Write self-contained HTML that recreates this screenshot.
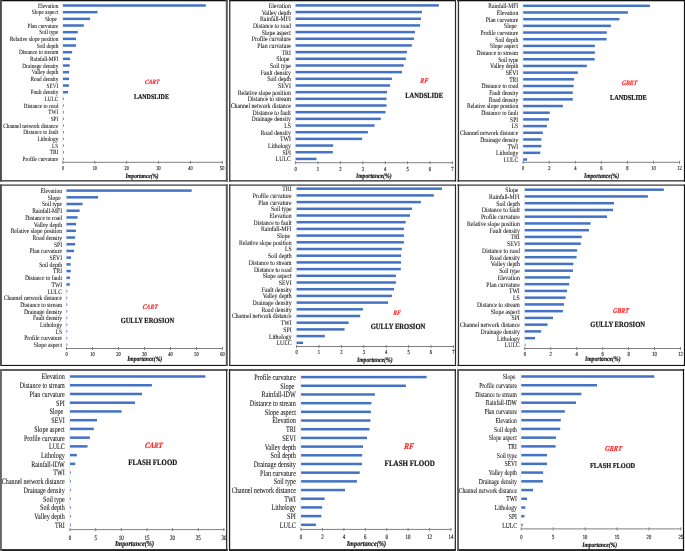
<!DOCTYPE html>
<html><head><meta charset="utf-8"><style>html,body{margin:0;padding:0;background:#fff;overflow:hidden}svg{display:block;font-family:"Liberation Serif",serif;text-rendering:geometricPrecision;filter:blur(0.35px)}</style></head><body>
<svg width="685" height="551" viewBox="0 0 685 551">
<rect width="685" height="551" fill="#fff"/>
<rect x="456" y="0" width="1.9" height="181.6" fill="#e4e4e4"/>
<rect x="456" y="184.5" width="1.9" height="181.5" fill="#ececec"/>
<rect x="227.2" y="369" width="1.8" height="182" fill="#e6e6e6"/>
<rect x="0" y="0" width="227.8" height="1.3" fill="#111"/>
<rect x="229" y="0" width="227" height="1.3" fill="#111"/>
<rect x="457.1" y="0" width="227.9" height="1.3" fill="#111"/>
<rect x="0" y="180" width="227.8" height="1.6" fill="#555"/>
<rect x="229" y="180" width="227" height="1.6" fill="#555"/>
<rect x="457.1" y="180" width="227.9" height="1.6" fill="#555"/>
<rect x="0" y="184.5" width="227.8" height="1.2" fill="#333"/>
<rect x="229" y="184.5" width="227" height="1.2" fill="#333"/>
<rect x="457.1" y="184.5" width="227.9" height="1.2" fill="#333"/>
<rect x="0" y="364.9" width="227.8" height="1.1" fill="#151515"/>
<rect x="229" y="364.9" width="227" height="1.1" fill="#151515"/>
<rect x="457.1" y="364.9" width="227.9" height="1.1" fill="#151515"/>
<rect x="0" y="369" width="227.8" height="2" fill="#5e5e5e"/>
<rect x="229" y="369" width="227" height="2" fill="#5e5e5e"/>
<rect x="457.1" y="369" width="227" height="2" fill="#5e5e5e"/>
<rect x="0" y="549.1" width="227.8" height="1.9" fill="#222"/>
<rect x="229" y="549.1" width="227" height="1.9" fill="#222"/>
<rect x="457.1" y="549.1" width="227" height="1.9" fill="#222"/>
<rect x="0" y="0" width="1.9" height="181.6" fill="#4d4d4d"/>
<rect x="0" y="184.5" width="1.9" height="181.5" fill="#4d4d4d"/>
<rect x="0" y="369" width="1.9" height="182" fill="#666"/>
<rect x="225.8" y="0" width="2" height="181.6" fill="#5a5a5a"/>
<rect x="225.8" y="184.5" width="2" height="181.5" fill="#5a5a5a"/>
<rect x="226" y="369" width="1.2" height="182" fill="#333"/>
<rect x="229.1" y="0" width="1.3" height="181.6" fill="#333"/>
<rect x="229.1" y="184.5" width="1.3" height="181.5" fill="#333"/>
<rect x="229" y="369" width="1.2" height="182" fill="#1e1e1e"/>
<rect x="454.9" y="0" width="1.1" height="181.6" fill="#2a2a2a"/>
<rect x="454.9" y="184.5" width="1.1" height="181.5" fill="#2a2a2a"/>
<rect x="454.7" y="369" width="1.3" height="182" fill="#333"/>
<rect x="457.9" y="0" width="1.2" height="181.6" fill="#333"/>
<rect x="457.9" y="184.5" width="1.2" height="181.5" fill="#333"/>
<rect x="457.1" y="369" width="1.9" height="182" fill="#606060"/>
<rect x="683.9" y="0" width="1.1" height="181.6" fill="#111"/>
<rect x="683.9" y="184.5" width="1.1" height="181.5" fill="#111"/>
<rect x="682.9" y="369" width="1.2" height="182" fill="#111"/>
<rect x="62" y="2.17" width="1" height="160.13" fill="#eeeeee"/>
<rect x="62.5" y="161.8" width="160.25" height="1" fill="#808080"/>
<rect x="62.5" y="160.8" width="1" height="3" fill="#808080"/>
<rect x="94.35" y="160.8" width="1" height="3" fill="#808080"/>
<rect x="126.2" y="160.8" width="1" height="3" fill="#808080"/>
<rect x="158.05" y="160.8" width="1" height="3" fill="#808080"/>
<rect x="189.9" y="160.8" width="1" height="3" fill="#808080"/>
<rect x="221.75" y="160.8" width="1" height="3" fill="#808080"/>
<g font-size="4.3" text-anchor="middle" fill="#1a1a1a" stroke="#1a1a1a" stroke-width="0.12"><text x="63" y="169.53" transform="matrix(1 0 0 1.35 0 -58.8)">0</text><text x="94.85" y="169.53" transform="matrix(1 0 0 1.35 0 -58.8)">10</text><text x="126.7" y="169.53" transform="matrix(1 0 0 1.35 0 -58.8)">20</text><text x="158.55" y="169.53" transform="matrix(1 0 0 1.35 0 -58.8)">30</text><text x="190.4" y="169.53" transform="matrix(1 0 0 1.35 0 -58.8)">40</text><text x="222.25" y="169.53" transform="matrix(1 0 0 1.35 0 -58.8)">50</text></g>
<g fill="#4472c4"><rect x="63" y="4.25" width="142.8" height="2.5"/><rect x="63" y="10.92" width="34.5" height="2.5"/><rect x="63" y="17.59" width="27.1" height="2.5"/><rect x="63" y="24.26" width="20.8" height="2.5"/><rect x="63" y="30.93" width="14.75" height="2.5"/><rect x="63" y="37.6" width="13" height="2.5"/><rect x="63" y="44.27" width="13" height="2.5"/><rect x="63" y="50.94" width="9.1" height="2.5"/><rect x="63" y="57.61" width="7.1" height="2.5"/><rect x="63" y="64.28" width="6.7" height="2.5"/><rect x="63" y="70.95" width="6.1" height="2.5"/><rect x="63" y="77.62" width="6.1" height="2.5"/><rect x="63" y="84.28" width="5.9" height="2.5"/><rect x="63" y="90.95" width="5" height="2.5"/><rect x="63" y="97.62" width="0.75" height="2.5"/><rect x="63" y="104.29" width="0.75" height="2.5"/><rect x="63" y="110.96" width="0.75" height="2.5"/><rect x="63" y="117.63" width="0.75" height="2.5"/><rect x="63" y="124.3" width="0.75" height="2.5"/><rect x="63" y="130.97" width="0.75" height="2.5"/><rect x="63" y="137.64" width="0.75" height="2.5"/><rect x="63" y="144.31" width="0.75" height="2.5"/><rect x="63" y="150.98" width="0.75" height="2.5"/><rect x="63" y="157.65" width="0.75" height="2.5"/></g>
<g font-size="5.3" text-anchor="end" fill="#111" stroke="#111" stroke-width="0.05" xml:space="preserve" style="white-space:pre"><text x="58.3" y="7.38" transform="matrix(1 0 0 1.2 0 -1.1)">Elevation</text><text x="58.3" y="14.05" transform="matrix(1 0 0 1.2 0 -2.43)">Slope aspect</text><text x="58.3" y="20.72" transform="matrix(1 0 0 1.2 0 -3.77)">Slope&#160;</text><text x="58.3" y="27.39" transform="matrix(1 0 0 1.2 0 -5.1)">Plan curvature</text><text x="58.3" y="34.06" transform="matrix(1 0 0 1.2 0 -6.44)">Soil type</text><text x="58.3" y="40.73" transform="matrix(1 0 0 1.2 0 -7.77)">Relative slope position</text><text x="58.3" y="47.4" transform="matrix(1 0 0 1.2 0 -9.1)">Soil depth</text><text x="58.3" y="54.07" transform="matrix(1 0 0 1.2 0 -10.44)">Distance to stream</text><text x="58.3" y="60.74" transform="matrix(1 0 0 1.2 0 -11.77)">Rainfall-MFI</text><text x="58.3" y="67.41" transform="matrix(1 0 0 1.2 0 -13.11)">Drainage density</text><text x="58.3" y="74.07" transform="matrix(1 0 0 1.2 0 -14.44)">Valley depth</text><text x="58.3" y="80.74" transform="matrix(1 0 0 1.2 0 -15.77)">Road density</text><text x="58.3" y="87.41" transform="matrix(1 0 0 1.2 0 -17.11)">SEVI</text><text x="58.3" y="94.08" transform="matrix(1 0 0 1.2 0 -18.44)">Fault density</text><text x="58.3" y="100.75" transform="matrix(1 0 0 1.2 0 -19.77)">LULC</text><text x="58.3" y="107.42" transform="matrix(1 0 0 1.2 0 -21.11)">Distance to road</text><text x="58.3" y="114.09" transform="matrix(1 0 0 1.2 0 -22.44)">TWI</text><text x="58.3" y="120.76" transform="matrix(1 0 0 1.2 0 -23.78)">SPI</text><text x="58.3" y="127.43" transform="matrix(1 0 0 1.2 0 -25.11)">Channel network distance</text><text x="58.3" y="134.1" transform="matrix(1 0 0 1.2 0 -26.44)">Distance to fault</text><text x="58.3" y="140.77" transform="matrix(1 0 0 1.2 0 -27.78)">Lithology</text><text x="58.3" y="147.44" transform="matrix(1 0 0 1.2 0 -29.11)">LS</text><text x="58.3" y="154.11" transform="matrix(1 0 0 1.2 0 -30.45)">TRI</text><text x="58.3" y="160.78" transform="matrix(1 0 0 1.2 0 -31.78)">Profile curvature</text></g>
<text x="152.2" y="83.45" transform="matrix(1 0 -0.1473 1.2 12.01 -16.3)" font-size="5.5" text-anchor="middle" fill="#ff1f1f" font-weight="bold" font-style="italic" stroke="#ff1f1f" stroke-width="0.15">CART</text>
<text x="151.4" y="98.61" transform="matrix(1 0 0 1.2 0 -19.3)" font-size="6" text-anchor="middle" fill="#111" font-weight="bold" stroke="#111" stroke-width="0.15">LANDSLIDE</text>
<text x="142" y="177.68" transform="matrix(1 0 0 1.2 0 -35.16)" font-size="5.3" text-anchor="middle" fill="#111" font-weight="bold" font-style="italic" stroke="#111" stroke-width="0.15">Importance(%)</text>
<rect x="294.6" y="2.06" width="1" height="160.64" fill="#eeeeee"/>
<rect x="295.1" y="162.2" width="157.8" height="1" fill="#808080"/>
<rect x="295.1" y="161.2" width="1" height="3" fill="#808080"/>
<rect x="317.5" y="161.2" width="1" height="3" fill="#808080"/>
<rect x="339.9" y="161.2" width="1" height="3" fill="#808080"/>
<rect x="362.3" y="161.2" width="1" height="3" fill="#808080"/>
<rect x="384.7" y="161.2" width="1" height="3" fill="#808080"/>
<rect x="407.1" y="161.2" width="1" height="3" fill="#808080"/>
<rect x="429.5" y="161.2" width="1" height="3" fill="#808080"/>
<rect x="451.9" y="161.2" width="1" height="3" fill="#808080"/>
<g font-size="4.6" text-anchor="middle" fill="#1a1a1a" stroke="#1a1a1a" stroke-width="0.12"><text x="295.6" y="170.03" transform="matrix(1 0 0 1.35 0 -58.94)">0</text><text x="318" y="170.03" transform="matrix(1 0 0 1.35 0 -58.94)">1</text><text x="340.4" y="170.03" transform="matrix(1 0 0 1.35 0 -58.94)">2</text><text x="362.8" y="170.03" transform="matrix(1 0 0 1.35 0 -58.94)">3</text><text x="385.2" y="170.03" transform="matrix(1 0 0 1.35 0 -58.94)">4</text><text x="407.6" y="170.03" transform="matrix(1 0 0 1.35 0 -58.94)">5</text><text x="430" y="170.03" transform="matrix(1 0 0 1.35 0 -58.94)">6</text><text x="452.4" y="170.03" transform="matrix(1 0 0 1.35 0 -58.94)">7</text></g>
<g fill="#4472c4"><rect x="295.6" y="4.15" width="143.3" height="2.5"/><rect x="295.6" y="10.82" width="126.3" height="2.5"/><rect x="295.6" y="17.5" width="125.4" height="2.5"/><rect x="295.6" y="24.17" width="124.5" height="2.5"/><rect x="295.6" y="30.85" width="119.3" height="2.5"/><rect x="295.6" y="37.52" width="118.3" height="2.5"/><rect x="295.6" y="44.19" width="116.2" height="2.5"/><rect x="295.6" y="50.87" width="111.3" height="2.5"/><rect x="295.6" y="57.54" width="110.3" height="2.5"/><rect x="295.6" y="64.22" width="108.1" height="2.5"/><rect x="295.6" y="70.89" width="106.4" height="2.5"/><rect x="295.6" y="77.56" width="96.3" height="2.5"/><rect x="295.6" y="84.24" width="94.5" height="2.5"/><rect x="295.6" y="90.91" width="91.4" height="2.5"/><rect x="295.6" y="97.58" width="90.9" height="2.5"/><rect x="295.6" y="104.26" width="90.9" height="2.5"/><rect x="295.6" y="110.93" width="89.9" height="2.5"/><rect x="295.6" y="117.61" width="85.2" height="2.5"/><rect x="295.6" y="124.28" width="79" height="2.5"/><rect x="295.6" y="130.95" width="72.3" height="2.5"/><rect x="295.6" y="137.63" width="66.6" height="2.5"/><rect x="295.6" y="144.3" width="37.6" height="2.5"/><rect x="295.6" y="150.98" width="37.2" height="2.5"/><rect x="295.6" y="157.65" width="20.9" height="2.5"/></g>
<g font-size="5.8" text-anchor="end" fill="#111" stroke="#111" stroke-width="0.05" xml:space="preserve" style="white-space:pre"><text x="290.9" y="7.44" transform="matrix(1 0 0 1.2 0 -1.08)">Elevation</text><text x="290.9" y="14.12" transform="matrix(1 0 0 1.2 0 -2.41)">Valley depth</text><text x="290.9" y="20.79" transform="matrix(1 0 0 1.2 0 -3.75)">Rainfall-MFI</text><text x="290.9" y="27.47" transform="matrix(1 0 0 1.2 0 -5.08)">Distance to road</text><text x="290.9" y="34.14" transform="matrix(1 0 0 1.2 0 -6.42)">Slope aspect</text><text x="290.9" y="40.81" transform="matrix(1 0 0 1.2 0 -7.75)">Profile curvature</text><text x="290.9" y="47.49" transform="matrix(1 0 0 1.2 0 -9.09)">Plan curvature</text><text x="290.9" y="54.16" transform="matrix(1 0 0 1.2 0 -10.42)">TRI</text><text x="290.9" y="60.84" transform="matrix(1 0 0 1.2 0 -11.76)">Slope&#160;</text><text x="290.9" y="67.51" transform="matrix(1 0 0 1.2 0 -13.09)">Soil type</text><text x="290.9" y="74.18" transform="matrix(1 0 0 1.2 0 -14.43)">Fault density</text><text x="290.9" y="80.86" transform="matrix(1 0 0 1.2 0 -15.76)">Soil depth</text><text x="290.9" y="87.53" transform="matrix(1 0 0 1.2 0 -17.1)">SEVI</text><text x="290.9" y="94.21" transform="matrix(1 0 0 1.2 0 -18.43)">Relative slope position</text><text x="290.9" y="100.88" transform="matrix(1 0 0 1.2 0 -19.77)">Distance to stream</text><text x="290.9" y="107.55" transform="matrix(1 0 0 1.2 0 -21.1)">Channel network distance</text><text x="290.9" y="114.23" transform="matrix(1 0 0 1.2 0 -22.44)">Distance to fault</text><text x="290.9" y="120.9" transform="matrix(1 0 0 1.2 0 -23.77)">Drainage density</text><text x="290.9" y="127.58" transform="matrix(1 0 0 1.2 0 -25.11)">LS</text><text x="290.9" y="134.25" transform="matrix(1 0 0 1.2 0 -26.44)">Road density</text><text x="290.9" y="140.92" transform="matrix(1 0 0 1.2 0 -27.78)">TWI</text><text x="290.9" y="147.6" transform="matrix(1 0 0 1.2 0 -29.11)">Lithology</text><text x="290.9" y="154.27" transform="matrix(1 0 0 1.2 0 -30.45)">SPI</text><text x="290.9" y="160.94" transform="matrix(1 0 0 1.2 0 -31.78)">LULC</text></g>
<text x="424.2" y="82.18" transform="matrix(1 0 -0.1473 1.2 11.8 -16.02)" font-size="5.9" text-anchor="middle" fill="#ff1f1f" font-weight="bold" font-style="italic" stroke="#ff1f1f" stroke-width="0.15">RF</text>
<text x="424.2" y="97.68" transform="matrix(1 0 0 1.2 0 -19.08)" font-size="6.5" text-anchor="middle" fill="#111" font-weight="bold" stroke="#111" stroke-width="0.15">LANDSLIDE</text>
<text x="373.8" y="178.01" transform="matrix(1 0 0 1.2 0 -35.2)" font-size="5.7" text-anchor="middle" fill="#111" font-weight="bold" font-style="italic" stroke="#111" stroke-width="0.15">Importance(%)</text>
<rect x="522.2" y="2.46" width="1" height="159.84" fill="#eeeeee"/>
<rect x="522.7" y="161.8" width="157.36" height="1" fill="#808080"/>
<rect x="522.7" y="160.8" width="1" height="3" fill="#808080"/>
<rect x="548.76" y="160.8" width="1" height="3" fill="#808080"/>
<rect x="574.82" y="160.8" width="1" height="3" fill="#808080"/>
<rect x="600.88" y="160.8" width="1" height="3" fill="#808080"/>
<rect x="626.94" y="160.8" width="1" height="3" fill="#808080"/>
<rect x="653" y="160.8" width="1" height="3" fill="#808080"/>
<rect x="679.06" y="160.8" width="1" height="3" fill="#808080"/>
<g font-size="4.5" text-anchor="middle" fill="#1a1a1a" stroke="#1a1a1a" stroke-width="0.12"><text x="523.2" y="169.8" transform="matrix(1 0 0 1.35 0 -58.87)">0</text><text x="549.26" y="169.8" transform="matrix(1 0 0 1.35 0 -58.87)">2</text><text x="575.32" y="169.8" transform="matrix(1 0 0 1.35 0 -58.87)">4</text><text x="601.38" y="169.8" transform="matrix(1 0 0 1.35 0 -58.87)">6</text><text x="627.44" y="169.8" transform="matrix(1 0 0 1.35 0 -58.87)">8</text><text x="653.5" y="169.8" transform="matrix(1 0 0 1.35 0 -58.87)">10</text><text x="679.56" y="169.8" transform="matrix(1 0 0 1.35 0 -58.87)">12</text></g>
<g fill="#4472c4"><rect x="523.2" y="4.55" width="126.7" height="2.5"/><rect x="523.2" y="11.23" width="104.7" height="2.5"/><rect x="523.2" y="17.92" width="96.2" height="2.5"/><rect x="523.2" y="24.6" width="87.7" height="2.5"/><rect x="523.2" y="31.28" width="83.6" height="2.5"/><rect x="523.2" y="37.96" width="83.3" height="2.5"/><rect x="523.2" y="44.65" width="71.7" height="2.5"/><rect x="523.2" y="51.33" width="71.7" height="2.5"/><rect x="523.2" y="58.01" width="71.4" height="2.5"/><rect x="523.2" y="64.69" width="63.6" height="2.5"/><rect x="523.2" y="71.38" width="54.7" height="2.5"/><rect x="523.2" y="78.06" width="50.9" height="2.5"/><rect x="523.2" y="84.74" width="50.4" height="2.5"/><rect x="523.2" y="91.42" width="49.6" height="2.5"/><rect x="523.2" y="98.11" width="49.6" height="2.5"/><rect x="523.2" y="104.79" width="39.7" height="2.5"/><rect x="523.2" y="111.47" width="26.6" height="2.5"/><rect x="523.2" y="118.15" width="25.8" height="2.5"/><rect x="523.2" y="124.84" width="23.7" height="2.5"/><rect x="523.2" y="131.52" width="19.6" height="2.5"/><rect x="523.2" y="138.2" width="18.2" height="2.5"/><rect x="523.2" y="144.88" width="18.2" height="2.5"/><rect x="523.2" y="151.57" width="17.1" height="2.5"/><rect x="523.2" y="158.25" width="3.9" height="2.5"/></g>
<g font-size="5.6" text-anchor="end" fill="#111" stroke="#111" stroke-width="0.05" xml:space="preserve" style="white-space:pre"><text x="518.2" y="7.78" transform="matrix(1 0 0 1.2 0 -1.16)">Rainfall-MFI</text><text x="518.2" y="14.46" transform="matrix(1 0 0 1.2 0 -2.5)">Elevation</text><text x="518.2" y="21.14" transform="matrix(1 0 0 1.2 0 -3.83)">Plan curvature</text><text x="518.2" y="27.83" transform="matrix(1 0 0 1.2 0 -5.17)">Slope&#160;</text><text x="518.2" y="34.51" transform="matrix(1 0 0 1.2 0 -6.51)">Profile curvature</text><text x="518.2" y="41.19" transform="matrix(1 0 0 1.2 0 -7.84)">Soil depth</text><text x="518.2" y="47.87" transform="matrix(1 0 0 1.2 0 -9.18)">Slope aspect</text><text x="518.2" y="54.56" transform="matrix(1 0 0 1.2 0 -10.52)">Distance to stream</text><text x="518.2" y="61.24" transform="matrix(1 0 0 1.2 0 -11.85)">Soil type</text><text x="518.2" y="67.92" transform="matrix(1 0 0 1.2 0 -13.19)">Valley depth</text><text x="518.2" y="74.6" transform="matrix(1 0 0 1.2 0 -14.53)">SEVI</text><text x="518.2" y="81.29" transform="matrix(1 0 0 1.2 0 -15.86)">TRI</text><text x="518.2" y="87.97" transform="matrix(1 0 0 1.2 0 -17.2)">Distance to road</text><text x="518.2" y="94.65" transform="matrix(1 0 0 1.2 0 -18.53)">Fault density</text><text x="518.2" y="101.34" transform="matrix(1 0 0 1.2 0 -19.87)">Road density</text><text x="518.2" y="108.02" transform="matrix(1 0 0 1.2 0 -21.21)">Relative slope position</text><text x="518.2" y="114.7" transform="matrix(1 0 0 1.2 0 -22.54)">Distance to fault</text><text x="518.2" y="121.38" transform="matrix(1 0 0 1.2 0 -23.88)">SPI</text><text x="518.2" y="128.07" transform="matrix(1 0 0 1.2 0 -25.22)">LS</text><text x="518.2" y="134.75" transform="matrix(1 0 0 1.2 0 -26.55)">Channel network distance</text><text x="518.2" y="141.43" transform="matrix(1 0 0 1.2 0 -27.89)">Drainage density</text><text x="518.2" y="148.11" transform="matrix(1 0 0 1.2 0 -29.23)">TWI</text><text x="518.2" y="154.8" transform="matrix(1 0 0 1.2 0 -30.56)">Lithology</text><text x="518.2" y="161.48" transform="matrix(1 0 0 1.2 0 -31.9)">LULC</text></g>
<text x="629.6" y="84.73" transform="matrix(1 0 -0.1473 1.2 12.19 -16.54)" font-size="5.75" text-anchor="middle" fill="#ff1f1f" font-weight="bold" font-style="italic" stroke="#ff1f1f" stroke-width="0.15">GBRT</text>
<text x="628.4" y="99.71" transform="matrix(1 0 0 1.2 0 -19.5)" font-size="6.3" text-anchor="middle" fill="#111" font-weight="bold" stroke="#111" stroke-width="0.15">LANDSLIDE</text>
<text x="601.6" y="177.38" transform="matrix(1 0 0 1.2 0 -35.08)" font-size="5.6" text-anchor="middle" fill="#111" font-weight="bold" font-style="italic" stroke="#111" stroke-width="0.15">Importance(%)</text>
<rect x="65.5" y="187.25" width="1" height="161.25" fill="#eeeeee"/>
<rect x="66" y="348" width="157" height="1" fill="#808080"/>
<rect x="66" y="347" width="1" height="3" fill="#808080"/>
<rect x="92" y="347" width="1" height="3" fill="#808080"/>
<rect x="118" y="347" width="1" height="3" fill="#808080"/>
<rect x="144" y="347" width="1" height="3" fill="#808080"/>
<rect x="170" y="347" width="1" height="3" fill="#808080"/>
<rect x="196" y="347" width="1" height="3" fill="#808080"/>
<rect x="222" y="347" width="1" height="3" fill="#808080"/>
<g font-size="4.5" text-anchor="middle" fill="#1a1a1a" stroke="#1a1a1a" stroke-width="0.12"><text x="66.5" y="355.1" transform="matrix(1 0 0 1.35 0 -123.73)">0</text><text x="92.5" y="355.1" transform="matrix(1 0 0 1.35 0 -123.73)">10</text><text x="118.5" y="355.1" transform="matrix(1 0 0 1.35 0 -123.73)">20</text><text x="144.5" y="355.1" transform="matrix(1 0 0 1.35 0 -123.73)">30</text><text x="170.5" y="355.1" transform="matrix(1 0 0 1.35 0 -123.73)">40</text><text x="196.5" y="355.1" transform="matrix(1 0 0 1.35 0 -123.73)">50</text><text x="222.5" y="355.1" transform="matrix(1 0 0 1.35 0 -123.73)">60</text></g>
<g fill="#4472c4"><rect x="66.5" y="189.35" width="125.2" height="2.5"/><rect x="66.5" y="196.05" width="31.6" height="2.5"/><rect x="66.5" y="202.76" width="16.1" height="2.5"/><rect x="66.5" y="209.46" width="13.1" height="2.5"/><rect x="66.5" y="216.17" width="11.1" height="2.5"/><rect x="66.5" y="222.87" width="9.6" height="2.5"/><rect x="66.5" y="229.58" width="9.4" height="2.5"/><rect x="66.5" y="236.28" width="8.6" height="2.5"/><rect x="66.5" y="242.98" width="8.6" height="2.5"/><rect x="66.5" y="249.69" width="7.5" height="2.5"/><rect x="66.5" y="256.39" width="4.5" height="2.5"/><rect x="66.5" y="263.1" width="4.2" height="2.5"/><rect x="66.5" y="269.8" width="4.3" height="2.5"/><rect x="66.5" y="276.51" width="3.5" height="2.5"/><rect x="66.5" y="283.21" width="3.3" height="2.5"/><rect x="66.5" y="289.92" width="0.75" height="2.5"/><rect x="66.5" y="296.62" width="0.75" height="2.5"/><rect x="66.5" y="303.32" width="0.75" height="2.5"/><rect x="66.5" y="310.03" width="0.75" height="2.5"/><rect x="66.5" y="316.73" width="0.75" height="2.5"/><rect x="66.5" y="323.44" width="0.75" height="2.5"/><rect x="66.5" y="330.14" width="0.75" height="2.5"/><rect x="66.5" y="336.85" width="0.75" height="2.5"/><rect x="66.5" y="343.55" width="0.75" height="2.5"/></g>
<g font-size="5.62" text-anchor="end" fill="#111" stroke="#111" stroke-width="0.05" xml:space="preserve" style="white-space:pre"><text x="62.05" y="192.59" transform="matrix(1 0 0 1.2 0 -38.12)">Elevation</text><text x="62.05" y="199.29" transform="matrix(1 0 0 1.2 0 -39.46)">Slope&#160;</text><text x="62.05" y="205.99" transform="matrix(1 0 0 1.2 0 -40.8)">Soil type</text><text x="62.05" y="212.7" transform="matrix(1 0 0 1.2 0 -42.14)">Rainfall-MFI</text><text x="62.05" y="219.4" transform="matrix(1 0 0 1.2 0 -43.48)">Distance to road</text><text x="62.05" y="226.11" transform="matrix(1 0 0 1.2 0 -44.82)">Valley depth</text><text x="62.05" y="232.81" transform="matrix(1 0 0 1.2 0 -46.17)">Relative slope position</text><text x="62.05" y="239.52" transform="matrix(1 0 0 1.2 0 -47.51)">Road density</text><text x="62.05" y="246.22" transform="matrix(1 0 0 1.2 0 -48.85)">SPI</text><text x="62.05" y="252.92" transform="matrix(1 0 0 1.2 0 -50.19)">Plan curvature</text><text x="62.05" y="259.63" transform="matrix(1 0 0 1.2 0 -51.53)">SEVI</text><text x="62.05" y="266.33" transform="matrix(1 0 0 1.2 0 -52.87)">Soil depth</text><text x="62.05" y="273.04" transform="matrix(1 0 0 1.2 0 -54.21)">TRI</text><text x="62.05" y="279.74" transform="matrix(1 0 0 1.2 0 -55.55)">Distance to fault</text><text x="62.05" y="286.45" transform="matrix(1 0 0 1.2 0 -56.89)">TWI</text><text x="62.05" y="293.15" transform="matrix(1 0 0 1.2 0 -58.23)">LULC</text><text x="62.05" y="299.85" transform="matrix(1 0 0 1.2 0 -59.57)">Channel network distance</text><text x="62.05" y="306.56" transform="matrix(1 0 0 1.2 0 -60.91)">Distance to stream</text><text x="62.05" y="313.26" transform="matrix(1 0 0 1.2 0 -62.26)">Drainage density</text><text x="62.05" y="319.97" transform="matrix(1 0 0 1.2 0 -63.6)">Fault density</text><text x="62.05" y="326.67" transform="matrix(1 0 0 1.2 0 -64.94)">Lithology</text><text x="62.05" y="333.38" transform="matrix(1 0 0 1.2 0 -66.28)">LS</text><text x="62.05" y="340.08" transform="matrix(1 0 0 1.2 0 -67.62)">Profile curvature</text><text x="62.05" y="346.79" transform="matrix(1 0 0 1.2 0 -68.96)">Slope aspect</text></g>
<text x="150.3" y="308.91" transform="matrix(1 0 -0.1473 1.2 45.22 -61.38)" font-size="5.7" text-anchor="middle" fill="#ff1f1f" font-weight="bold" font-style="italic" stroke="#ff1f1f" stroke-width="0.15">CART</text>
<text x="147.4" y="322.76" transform="matrix(1 0 0 1.2 0 -64.1)" font-size="6.45" text-anchor="middle" fill="#111" font-weight="bold" stroke="#111" stroke-width="0.15">GULLY EROSION</text>
<text x="144.7" y="360.98" transform="matrix(1 0 0 1.2 0 -71.8)" font-size="5.6" text-anchor="middle" fill="#111" font-weight="bold" font-style="italic" stroke="#111" stroke-width="0.15">Importance(%)</text>
<rect x="295.6" y="185.35" width="1" height="161.15" fill="#eeeeee"/>
<rect x="296.1" y="346" width="157.8" height="1" fill="#808080"/>
<rect x="296.1" y="345" width="1" height="3" fill="#808080"/>
<rect x="318.5" y="345" width="1" height="3" fill="#808080"/>
<rect x="340.9" y="345" width="1" height="3" fill="#808080"/>
<rect x="363.3" y="345" width="1" height="3" fill="#808080"/>
<rect x="385.7" y="345" width="1" height="3" fill="#808080"/>
<rect x="408.1" y="345" width="1" height="3" fill="#808080"/>
<rect x="430.5" y="345" width="1" height="3" fill="#808080"/>
<rect x="452.9" y="345" width="1" height="3" fill="#808080"/>
<g font-size="4.6" text-anchor="middle" fill="#1a1a1a" stroke="#1a1a1a" stroke-width="0.12"><text x="296.6" y="353.93" transform="matrix(1 0 0 1.35 0 -123.31)">0</text><text x="319" y="353.93" transform="matrix(1 0 0 1.35 0 -123.31)">1</text><text x="341.4" y="353.93" transform="matrix(1 0 0 1.35 0 -123.31)">2</text><text x="363.8" y="353.93" transform="matrix(1 0 0 1.35 0 -123.31)">3</text><text x="386.2" y="353.93" transform="matrix(1 0 0 1.35 0 -123.31)">4</text><text x="408.6" y="353.93" transform="matrix(1 0 0 1.35 0 -123.31)">5</text><text x="431" y="353.93" transform="matrix(1 0 0 1.35 0 -123.31)">6</text><text x="453.4" y="353.93" transform="matrix(1 0 0 1.35 0 -123.31)">7</text></g>
<g fill="#4472c4"><rect x="296.6" y="187.45" width="145.4" height="2.5"/><rect x="296.6" y="194.15" width="137.2" height="2.5"/><rect x="296.6" y="200.85" width="124.3" height="2.5"/><rect x="296.6" y="207.55" width="115.4" height="2.5"/><rect x="296.6" y="214.25" width="113.4" height="2.5"/><rect x="296.6" y="220.95" width="109.1" height="2.5"/><rect x="296.6" y="227.65" width="107.3" height="2.5"/><rect x="296.6" y="234.35" width="107.3" height="2.5"/><rect x="296.6" y="241.05" width="107.3" height="2.5"/><rect x="296.6" y="247.75" width="105.2" height="2.5"/><rect x="296.6" y="254.45" width="104.5" height="2.5"/><rect x="296.6" y="261.15" width="104.5" height="2.5"/><rect x="296.6" y="267.85" width="104.2" height="2.5"/><rect x="296.6" y="274.55" width="99.3" height="2.5"/><rect x="296.6" y="281.25" width="99.3" height="2.5"/><rect x="296.6" y="287.95" width="97.5" height="2.5"/><rect x="296.6" y="294.65" width="95.3" height="2.5"/><rect x="296.6" y="301.35" width="91.4" height="2.5"/><rect x="296.6" y="308.05" width="66.3" height="2.5"/><rect x="296.6" y="314.75" width="63.6" height="2.5"/><rect x="296.6" y="321.45" width="52" height="2.5"/><rect x="296.6" y="328.15" width="48" height="2.5"/><rect x="296.6" y="334.85" width="28.2" height="2.5"/><rect x="296.6" y="341.55" width="6.5" height="2.5"/></g>
<g font-size="5.75" text-anchor="end" fill="#111" stroke="#111" stroke-width="0.05" xml:space="preserve" style="white-space:pre"><text x="291.6" y="190.73" transform="matrix(1 0 0 1.2 0 -37.74)">TRI</text><text x="291.6" y="197.43" transform="matrix(1 0 0 1.2 0 -39.08)">Profile curvature</text><text x="291.6" y="204.13" transform="matrix(1 0 0 1.2 0 -40.42)">Plan curvature</text><text x="291.6" y="210.83" transform="matrix(1 0 0 1.2 0 -41.76)">Soil type</text><text x="291.6" y="217.53" transform="matrix(1 0 0 1.2 0 -43.1)">Elevation</text><text x="291.6" y="224.23" transform="matrix(1 0 0 1.2 0 -44.44)">Distance to fault</text><text x="291.6" y="230.93" transform="matrix(1 0 0 1.2 0 -45.78)">Rainfall-MFI</text><text x="291.6" y="237.63" transform="matrix(1 0 0 1.2 0 -47.12)">Slope&#160;</text><text x="291.6" y="244.33" transform="matrix(1 0 0 1.2 0 -48.46)">Relative slope position</text><text x="291.6" y="251.03" transform="matrix(1 0 0 1.2 0 -49.8)">LS</text><text x="291.6" y="257.73" transform="matrix(1 0 0 1.2 0 -51.14)">Soil depth</text><text x="291.6" y="264.43" transform="matrix(1 0 0 1.2 0 -52.48)">Distance to stream</text><text x="291.6" y="271.13" transform="matrix(1 0 0 1.2 0 -53.82)">Distance to road</text><text x="291.6" y="277.83" transform="matrix(1 0 0 1.2 0 -55.16)">Slope aspect</text><text x="291.6" y="284.53" transform="matrix(1 0 0 1.2 0 -56.5)">SEVI</text><text x="291.6" y="291.23" transform="matrix(1 0 0 1.2 0 -57.84)">Fault density</text><text x="291.6" y="297.93" transform="matrix(1 0 0 1.2 0 -59.18)">Valley depth</text><text x="291.6" y="304.63" transform="matrix(1 0 0 1.2 0 -60.52)">Drainage density</text><text x="291.6" y="311.33" transform="matrix(1 0 0 1.2 0 -61.86)">Road density</text><text x="291.6" y="318.03" transform="matrix(1 0 0 1.2 0 -63.2)">Channel network distance</text><text x="291.6" y="324.73" transform="matrix(1 0 0 1.2 0 -64.54)">TWI</text><text x="291.6" y="331.43" transform="matrix(1 0 0 1.2 0 -65.88)">SPI</text><text x="291.6" y="338.13" transform="matrix(1 0 0 1.2 0 -67.22)">Lithology</text><text x="291.6" y="344.83" transform="matrix(1 0 0 1.2 0 -68.56)">LULC</text></g>
<text x="397.1" y="314.51" transform="matrix(1 0 -0.1473 1.2 46.04 -62.5)" font-size="5.7" text-anchor="middle" fill="#ff1f1f" font-weight="bold" font-style="italic" stroke="#ff1f1f" stroke-width="0.15">RF</text>
<text x="398" y="328.51" transform="matrix(1 0 0 1.2 0 -65.24)" font-size="6.6" text-anchor="middle" fill="#111" font-weight="bold" stroke="#111" stroke-width="0.15">GULLY EROSION</text>
<text x="374.8" y="361.91" transform="matrix(1 0 0 1.2 0 -71.98)" font-size="5.7" text-anchor="middle" fill="#111" font-weight="bold" font-style="italic" stroke="#111" stroke-width="0.15">Importance(%)</text>
<rect x="523.8" y="186.33" width="1" height="162.17" fill="#eeeeee"/>
<rect x="524.3" y="348" width="156.64" height="1" fill="#808080"/>
<rect x="524.3" y="347" width="1" height="3" fill="#808080"/>
<rect x="550.24" y="347" width="1" height="3" fill="#808080"/>
<rect x="576.18" y="347" width="1" height="3" fill="#808080"/>
<rect x="602.12" y="347" width="1" height="3" fill="#808080"/>
<rect x="628.06" y="347" width="1" height="3" fill="#808080"/>
<rect x="654" y="347" width="1" height="3" fill="#808080"/>
<rect x="679.94" y="347" width="1" height="3" fill="#808080"/>
<g font-size="4.6" text-anchor="middle" fill="#1a1a1a" stroke="#1a1a1a" stroke-width="0.12"><text x="524.8" y="355.93" transform="matrix(1 0 0 1.35 0 -124.01)">0</text><text x="550.74" y="355.93" transform="matrix(1 0 0 1.35 0 -124.01)">2</text><text x="576.68" y="355.93" transform="matrix(1 0 0 1.35 0 -124.01)">4</text><text x="602.62" y="355.93" transform="matrix(1 0 0 1.35 0 -124.01)">6</text><text x="628.56" y="355.93" transform="matrix(1 0 0 1.35 0 -124.01)">8</text><text x="654.5" y="355.93" transform="matrix(1 0 0 1.35 0 -124.01)">10</text><text x="680.44" y="355.93" transform="matrix(1 0 0 1.35 0 -124.01)">12</text></g>
<g fill="#4472c4"><rect x="524.8" y="188.45" width="139" height="2.5"/><rect x="524.8" y="195.2" width="123.1" height="2.5"/><rect x="524.8" y="201.95" width="89.2" height="2.5"/><rect x="524.8" y="208.69" width="88.2" height="2.5"/><rect x="524.8" y="215.44" width="82.2" height="2.5"/><rect x="524.8" y="222.19" width="65.8" height="2.5"/><rect x="524.8" y="228.94" width="64.2" height="2.5"/><rect x="524.8" y="235.68" width="57" height="2.5"/><rect x="524.8" y="242.43" width="56" height="2.5"/><rect x="524.8" y="249.18" width="52.3" height="2.5"/><rect x="524.8" y="255.93" width="51.8" height="2.5"/><rect x="524.8" y="262.68" width="48.6" height="2.5"/><rect x="524.8" y="269.42" width="48.2" height="2.5"/><rect x="524.8" y="276.17" width="45.4" height="2.5"/><rect x="524.8" y="282.92" width="44.4" height="2.5"/><rect x="524.8" y="289.67" width="42.3" height="2.5"/><rect x="524.8" y="296.42" width="40.8" height="2.5"/><rect x="524.8" y="303.16" width="39.2" height="2.5"/><rect x="524.8" y="309.91" width="38.1" height="2.5"/><rect x="524.8" y="316.66" width="28.2" height="2.5"/><rect x="524.8" y="323.41" width="22.7" height="2.5"/><rect x="524.8" y="330.15" width="16.4" height="2.5"/><rect x="524.8" y="336.9" width="10.2" height="2.5"/><rect x="524.8" y="343.65" width="0.75" height="2.5"/></g>
<g font-size="5.77" text-anchor="end" fill="#111" stroke="#111" stroke-width="0.05" xml:space="preserve" style="white-space:pre"><text x="519.8" y="191.73" transform="matrix(1 0 0 1.2 0 -37.94)">Slope&#160;</text><text x="519.8" y="198.48" transform="matrix(1 0 0 1.2 0 -39.29)">Rainfall-MFI</text><text x="519.8" y="205.23" transform="matrix(1 0 0 1.2 0 -40.64)">Soil depth</text><text x="519.8" y="211.98" transform="matrix(1 0 0 1.2 0 -41.99)">Distance to fault</text><text x="519.8" y="218.73" transform="matrix(1 0 0 1.2 0 -43.34)">Profile curvature</text><text x="519.8" y="225.47" transform="matrix(1 0 0 1.2 0 -44.69)">Relative slope position</text><text x="519.8" y="232.22" transform="matrix(1 0 0 1.2 0 -46.04)">Fault density</text><text x="519.8" y="238.97" transform="matrix(1 0 0 1.2 0 -47.39)">TRI</text><text x="519.8" y="245.72" transform="matrix(1 0 0 1.2 0 -48.74)">SEVI</text><text x="519.8" y="252.47" transform="matrix(1 0 0 1.2 0 -50.09)">Distance to road</text><text x="519.8" y="259.21" transform="matrix(1 0 0 1.2 0 -51.44)">Road density</text><text x="519.8" y="265.96" transform="matrix(1 0 0 1.2 0 -52.79)">Valley depth</text><text x="519.8" y="272.71" transform="matrix(1 0 0 1.2 0 -54.13)">Soil type</text><text x="519.8" y="279.46" transform="matrix(1 0 0 1.2 0 -55.48)">Elevation</text><text x="519.8" y="286.2" transform="matrix(1 0 0 1.2 0 -56.83)">Plan curvature</text><text x="519.8" y="292.95" transform="matrix(1 0 0 1.2 0 -58.18)">TWI</text><text x="519.8" y="299.7" transform="matrix(1 0 0 1.2 0 -59.53)">LS</text><text x="519.8" y="306.45" transform="matrix(1 0 0 1.2 0 -60.88)">Distance to stream</text><text x="519.8" y="313.2" transform="matrix(1 0 0 1.2 0 -62.23)">Slope aspect</text><text x="519.8" y="319.94" transform="matrix(1 0 0 1.2 0 -63.58)">SPI</text><text x="519.8" y="326.69" transform="matrix(1 0 0 1.2 0 -64.93)">Channel network distance</text><text x="519.8" y="333.44" transform="matrix(1 0 0 1.2 0 -66.28)">Drainage density</text><text x="519.8" y="340.19" transform="matrix(1 0 0 1.2 0 -67.63)">Lithology</text><text x="519.8" y="346.93" transform="matrix(1 0 0 1.2 0 -68.98)">LULC</text></g>
<text x="621" y="312.58" transform="matrix(1 0 -0.1473 1.2 45.75 -62.1)" font-size="5.9" text-anchor="middle" fill="#ff1f1f" font-weight="bold" font-style="italic" stroke="#ff1f1f" stroke-width="0.15">GBRT</text>
<text x="617.7" y="326.31" transform="matrix(1 0 0 1.2 0 -64.8)" font-size="6.6" text-anchor="middle" fill="#111" font-weight="bold" stroke="#111" stroke-width="0.15">GULLY EROSION</text>
<text x="602.8" y="361.01" transform="matrix(1 0 0 1.2 0 -71.8)" font-size="5.7" text-anchor="middle" fill="#111" font-weight="bold" font-style="italic" stroke="#111" stroke-width="0.15">Importance(%)</text>
<rect x="69" y="372.13" width="1" height="157.47" fill="#eeeeee"/>
<rect x="69.5" y="529.1" width="154.9" height="1" fill="#808080"/>
<rect x="69.5" y="528.1" width="1" height="3" fill="#808080"/>
<rect x="95.15" y="528.1" width="1" height="3" fill="#808080"/>
<rect x="120.8" y="528.1" width="1" height="3" fill="#808080"/>
<rect x="146.45" y="528.1" width="1" height="3" fill="#808080"/>
<rect x="172.1" y="528.1" width="1" height="3" fill="#808080"/>
<rect x="197.75" y="528.1" width="1" height="3" fill="#808080"/>
<rect x="223.4" y="528.1" width="1" height="3" fill="#808080"/>
<g font-size="5" text-anchor="middle" fill="#1a1a1a" stroke="#1a1a1a" stroke-width="0.12"><text x="70" y="539.07" transform="matrix(1 0 0 1.35 0 -188.06)">0</text><text x="95.65" y="539.07" transform="matrix(1 0 0 1.35 0 -188.06)">5</text><text x="121.3" y="539.07" transform="matrix(1 0 0 1.35 0 -188.06)">10</text><text x="146.95" y="539.07" transform="matrix(1 0 0 1.35 0 -188.06)">15</text><text x="172.6" y="539.07" transform="matrix(1 0 0 1.35 0 -188.06)">20</text><text x="198.25" y="539.07" transform="matrix(1 0 0 1.35 0 -188.06)">25</text><text x="223.9" y="539.07" transform="matrix(1 0 0 1.35 0 -188.06)">30</text></g>
<g fill="#4472c4"><rect x="70" y="375.25" width="135.3" height="2.5"/><rect x="70" y="383.99" width="81.9" height="2.5"/><rect x="70" y="392.72" width="72" height="2.5"/><rect x="70" y="401.46" width="65" height="2.5"/><rect x="70" y="410.19" width="51.6" height="2.5"/><rect x="70" y="418.93" width="27" height="2.5"/><rect x="70" y="427.66" width="23.8" height="2.5"/><rect x="70" y="436.4" width="19.9" height="2.5"/><rect x="70" y="445.13" width="17.5" height="2.5"/><rect x="70" y="453.87" width="6.8" height="2.5"/><rect x="70" y="462.6" width="5.2" height="2.5"/><rect x="70" y="471.34" width="0.75" height="2.5"/><rect x="70" y="480.07" width="0.75" height="2.5"/><rect x="70" y="488.81" width="0.75" height="2.5"/><rect x="70" y="497.54" width="0.75" height="2.5"/><rect x="70" y="506.28" width="0.75" height="2.5"/><rect x="70" y="515.01" width="0.75" height="2.5"/><rect x="70" y="523.75" width="0.75" height="2.5"/></g>
<g font-size="6.07" text-anchor="end" fill="#111" stroke="#111" stroke-width="0.05" xml:space="preserve" style="white-space:pre"><text x="64.8" y="378.62" transform="matrix(1 0 0 1.35 0 -131.78)">Elevation</text><text x="64.8" y="387.36" transform="matrix(1 0 0 1.35 0 -134.83)">Distance to stream</text><text x="64.8" y="396.09" transform="matrix(1 0 0 1.35 0 -137.89)">Plan curvature</text><text x="64.8" y="404.83" transform="matrix(1 0 0 1.35 0 -140.95)">SPI</text><text x="64.8" y="413.56" transform="matrix(1 0 0 1.35 0 -144)">Slope&#160;</text><text x="64.8" y="422.3" transform="matrix(1 0 0 1.35 0 -147.06)">SEVI</text><text x="64.8" y="431.03" transform="matrix(1 0 0 1.35 0 -150.12)">Slope aspect</text><text x="64.8" y="439.77" transform="matrix(1 0 0 1.35 0 -153.18)">Profile curvature</text><text x="64.8" y="448.5" transform="matrix(1 0 0 1.35 0 -156.23)">LULC</text><text x="64.8" y="457.24" transform="matrix(1 0 0 1.35 0 -159.29)">Lithology</text><text x="64.8" y="465.97" transform="matrix(1 0 0 1.35 0 -162.35)">Rainfall-IDW</text><text x="64.8" y="474.71" transform="matrix(1 0 0 1.35 0 -165.41)">TWI</text><text x="64.8" y="483.44" transform="matrix(1 0 0 1.35 0 -168.46)">Channel network distance</text><text x="64.8" y="492.18" transform="matrix(1 0 0 1.35 0 -171.52)">Drainage density</text><text x="64.8" y="500.91" transform="matrix(1 0 0 1.35 0 -174.58)">Soil type</text><text x="64.8" y="509.65" transform="matrix(1 0 0 1.35 0 -177.64)">Soil depth</text><text x="64.8" y="518.38" transform="matrix(1 0 0 1.35 0 -180.69)">Valley depth</text><text x="64.8" y="527.12" transform="matrix(1 0 0 1.35 0 -183.75)">TRI</text></g>
<text x="153.9" y="447.38" transform="matrix(1 0 -0.1473 1.2 65.57 -89)" font-size="6.8" text-anchor="middle" fill="#ff1f1f" font-weight="bold" font-style="italic" stroke="#ff1f1f" stroke-width="0.15">CART</text>
<text x="152.7" y="464.2" transform="matrix(1 0 0 1.2 0 -92.36)" font-size="6.86" text-anchor="middle" fill="#111" font-weight="bold" stroke="#111" stroke-width="0.15">FLASH FLOOD</text>
<text x="134.5" y="545.19" transform="matrix(1 0 0 1.2 0 -108.6)" font-size="6.24" text-anchor="middle" fill="#111" font-weight="bold" font-style="italic" stroke="#111" stroke-width="0.15">Importance(%)</text>
<rect x="300.1" y="372.76" width="1" height="156.64" fill="#eeeeee"/>
<rect x="300.6" y="528.9" width="150.8" height="1" fill="#808080"/>
<rect x="300.6" y="527.9" width="1" height="3" fill="#808080"/>
<rect x="322" y="527.9" width="1" height="3" fill="#808080"/>
<rect x="343.4" y="527.9" width="1" height="3" fill="#808080"/>
<rect x="364.8" y="527.9" width="1" height="3" fill="#808080"/>
<rect x="386.2" y="527.9" width="1" height="3" fill="#808080"/>
<rect x="407.6" y="527.9" width="1" height="3" fill="#808080"/>
<rect x="429" y="527.9" width="1" height="3" fill="#808080"/>
<rect x="450.4" y="527.9" width="1" height="3" fill="#808080"/>
<g font-size="5" text-anchor="middle" fill="#1a1a1a" stroke="#1a1a1a" stroke-width="0.12"><text x="301.1" y="538.37" transform="matrix(1 0 0 1.35 0 -187.81)">0</text><text x="322.5" y="538.37" transform="matrix(1 0 0 1.35 0 -187.81)">2</text><text x="343.9" y="538.37" transform="matrix(1 0 0 1.35 0 -187.81)">4</text><text x="365.3" y="538.37" transform="matrix(1 0 0 1.35 0 -187.81)">6</text><text x="386.7" y="538.37" transform="matrix(1 0 0 1.35 0 -187.81)">8</text><text x="408.1" y="538.37" transform="matrix(1 0 0 1.35 0 -187.81)">10</text><text x="429.5" y="538.37" transform="matrix(1 0 0 1.35 0 -187.81)">12</text><text x="450.9" y="538.37" transform="matrix(1 0 0 1.35 0 -187.81)">14</text></g>
<g fill="#4472c4"><rect x="301.1" y="375.85" width="125.5" height="2.5"/><rect x="301.1" y="384.54" width="104.8" height="2.5"/><rect x="301.1" y="393.23" width="73.8" height="2.5"/><rect x="301.1" y="401.91" width="70.3" height="2.5"/><rect x="301.1" y="410.6" width="69.8" height="2.5"/><rect x="301.1" y="419.29" width="69.4" height="2.5"/><rect x="301.1" y="427.98" width="68.4" height="2.5"/><rect x="301.1" y="436.67" width="65.9" height="2.5"/><rect x="301.1" y="445.36" width="61.9" height="2.5"/><rect x="301.1" y="454.04" width="61.1" height="2.5"/><rect x="301.1" y="462.73" width="60.9" height="2.5"/><rect x="301.1" y="471.42" width="58.6" height="2.5"/><rect x="301.1" y="480.11" width="55.8" height="2.5"/><rect x="301.1" y="488.8" width="43.9" height="2.5"/><rect x="301.1" y="497.49" width="23.5" height="2.5"/><rect x="301.1" y="506.17" width="21.1" height="2.5"/><rect x="301.1" y="514.86" width="20.2" height="2.5"/><rect x="301.1" y="523.55" width="14.8" height="2.5"/></g>
<g font-size="6.2" text-anchor="end" fill="#111" stroke="#111" stroke-width="0.05" xml:space="preserve" style="white-space:pre"><text x="295.9" y="379.26" transform="matrix(1 0 0 1.35 0 -131.99)">Profile curvature</text><text x="295.9" y="387.95" transform="matrix(1 0 0 1.35 0 -135.03)">Slope&#160;</text><text x="295.9" y="396.64" transform="matrix(1 0 0 1.35 0 -138.07)">Rainfall-IDW</text><text x="295.9" y="405.33" transform="matrix(1 0 0 1.35 0 -141.11)">Distance to stream</text><text x="295.9" y="414.02" transform="matrix(1 0 0 1.35 0 -144.15)">Slope aspect</text><text x="295.9" y="422.7" transform="matrix(1 0 0 1.35 0 -147.19)">Elevation</text><text x="295.9" y="431.39" transform="matrix(1 0 0 1.35 0 -150.23)">TRI</text><text x="295.9" y="440.08" transform="matrix(1 0 0 1.35 0 -153.27)">SEVI</text><text x="295.9" y="448.77" transform="matrix(1 0 0 1.35 0 -156.31)">Valley depth</text><text x="295.9" y="457.46" transform="matrix(1 0 0 1.35 0 -159.35)">Soil depth</text><text x="295.9" y="466.15" transform="matrix(1 0 0 1.35 0 -162.39)">Drainage density</text><text x="295.9" y="474.83" transform="matrix(1 0 0 1.35 0 -165.43)">Plan curvature</text><text x="295.9" y="483.52" transform="matrix(1 0 0 1.35 0 -168.48)">Soil type</text><text x="295.9" y="492.21" transform="matrix(1 0 0 1.35 0 -171.52)">Channel network distance</text><text x="295.9" y="500.9" transform="matrix(1 0 0 1.35 0 -174.56)">TWI</text><text x="295.9" y="509.59" transform="matrix(1 0 0 1.35 0 -177.6)">Lithology</text><text x="295.9" y="518.28" transform="matrix(1 0 0 1.35 0 -180.64)">SPI</text><text x="295.9" y="526.96" transform="matrix(1 0 0 1.35 0 -183.68)">LULC</text></g>
<text x="409.1" y="448.57" transform="matrix(1 0 -0.1473 1.2 65.71 -89.2)" font-size="7.4" text-anchor="middle" fill="#ff1f1f" font-weight="bold" font-style="italic" stroke="#ff1f1f" stroke-width="0.15">RF</text>
<text x="409.7" y="465.36" transform="matrix(1 0 0 1.2 0 -92.58)" font-size="7.04" text-anchor="middle" fill="#111" font-weight="bold" stroke="#111" stroke-width="0.15">FLASH FLOOD</text>
<text x="366.4" y="545.71" transform="matrix(1 0 0 1.2 0 -108.7)" font-size="6.29" text-anchor="middle" fill="#111" font-weight="bold" font-style="italic" stroke="#111" stroke-width="0.15">Importance(%)</text>
<rect x="520.3" y="372.13" width="1" height="156.77" fill="#eeeeee"/>
<rect x="520.8" y="528.4" width="160.5" height="1" fill="#808080"/>
<rect x="520.8" y="527.4" width="1" height="3" fill="#808080"/>
<rect x="552.7" y="527.4" width="1" height="3" fill="#808080"/>
<rect x="584.6" y="527.4" width="1" height="3" fill="#808080"/>
<rect x="616.5" y="527.4" width="1" height="3" fill="#808080"/>
<rect x="648.4" y="527.4" width="1" height="3" fill="#808080"/>
<rect x="680.3" y="527.4" width="1" height="3" fill="#808080"/>
<g font-size="4.6" text-anchor="middle" fill="#1a1a1a" stroke="#1a1a1a" stroke-width="0.12"><text x="521.3" y="538.43" transform="matrix(1 0 0 1.35 0 -187.88)">0</text><text x="553.2" y="538.43" transform="matrix(1 0 0 1.35 0 -187.88)">5</text><text x="585.1" y="538.43" transform="matrix(1 0 0 1.35 0 -187.88)">10</text><text x="617" y="538.43" transform="matrix(1 0 0 1.35 0 -187.88)">15</text><text x="648.9" y="538.43" transform="matrix(1 0 0 1.35 0 -187.88)">20</text><text x="680.8" y="538.43" transform="matrix(1 0 0 1.35 0 -187.88)">25</text></g>
<g fill="#4472c4"><rect x="521.3" y="375.25" width="133" height="2.5"/><rect x="521.3" y="383.99" width="75.7" height="2.5"/><rect x="521.3" y="392.72" width="60.1" height="2.5"/><rect x="521.3" y="401.46" width="54.7" height="2.5"/><rect x="521.3" y="410.19" width="43.6" height="2.5"/><rect x="521.3" y="418.93" width="39.5" height="2.5"/><rect x="521.3" y="427.66" width="38.9" height="2.5"/><rect x="521.3" y="436.4" width="34.7" height="2.5"/><rect x="521.3" y="445.13" width="34.3" height="2.5"/><rect x="521.3" y="453.87" width="25.7" height="2.5"/><rect x="521.3" y="462.6" width="25.7" height="2.5"/><rect x="521.3" y="471.34" width="21.8" height="2.5"/><rect x="521.3" y="480.07" width="21.6" height="2.5"/><rect x="521.3" y="488.81" width="11.7" height="2.5"/><rect x="521.3" y="497.54" width="5.8" height="2.5"/><rect x="521.3" y="506.28" width="4" height="2.5"/><rect x="521.3" y="515.01" width="3.1" height="2.5"/><rect x="521.3" y="523.75" width="1.4" height="2.5"/></g>
<g font-size="5.6" text-anchor="end" fill="#111" stroke="#111" stroke-width="0.05" xml:space="preserve" style="white-space:pre"><text x="516.9" y="378.46" transform="matrix(1 0 0 1.35 0 -131.78)">Slope&#160;</text><text x="516.9" y="387.2" transform="matrix(1 0 0 1.35 0 -134.83)">Profile curvature</text><text x="516.9" y="395.94" transform="matrix(1 0 0 1.35 0 -137.89)">Distance to stream</text><text x="516.9" y="404.67" transform="matrix(1 0 0 1.35 0 -140.95)">Rainfall-IDW</text><text x="516.9" y="413.41" transform="matrix(1 0 0 1.35 0 -144)">Plan curvature</text><text x="516.9" y="422.14" transform="matrix(1 0 0 1.35 0 -147.06)">Elevation</text><text x="516.9" y="430.88" transform="matrix(1 0 0 1.35 0 -150.12)">Soil depth</text><text x="516.9" y="439.61" transform="matrix(1 0 0 1.35 0 -153.18)">Slope aspect</text><text x="516.9" y="448.35" transform="matrix(1 0 0 1.35 0 -156.23)">TRI</text><text x="516.9" y="457.08" transform="matrix(1 0 0 1.35 0 -159.29)">Soil type</text><text x="516.9" y="465.82" transform="matrix(1 0 0 1.35 0 -162.35)">SEVI</text><text x="516.9" y="474.55" transform="matrix(1 0 0 1.35 0 -165.41)">Valley depth</text><text x="516.9" y="483.29" transform="matrix(1 0 0 1.35 0 -168.46)">Drainage density</text><text x="516.9" y="492.02" transform="matrix(1 0 0 1.35 0 -171.52)">Channel network distance</text><text x="516.9" y="500.76" transform="matrix(1 0 0 1.35 0 -174.58)">TWI</text><text x="516.9" y="509.49" transform="matrix(1 0 0 1.35 0 -177.64)">Lithology</text><text x="516.9" y="518.23" transform="matrix(1 0 0 1.35 0 -180.69)">SPI</text><text x="516.9" y="526.96" transform="matrix(1 0 0 1.35 0 -183.75)">LULC</text></g>
<text x="613.5" y="450.92" transform="matrix(1 0 -0.1473 1.2 66.11 -89.74)" font-size="6.34" text-anchor="middle" fill="#ff1f1f" font-weight="bold" font-style="italic" stroke="#ff1f1f" stroke-width="0.15">GBRT</text>
<text x="612.6" y="467.42" transform="matrix(1 0 0 1.2 0 -93.04)" font-size="6.33" text-anchor="middle" fill="#111" font-weight="bold" stroke="#111" stroke-width="0.15">FLASH FLOOD</text>
<text x="599.7" y="546.36" transform="matrix(1 0 0 1.2 0 -108.88)" font-size="5.54" text-anchor="middle" fill="#111" font-weight="bold" font-style="italic" stroke="#111" stroke-width="0.15">Importance(%)</text>
</svg></body></html>
